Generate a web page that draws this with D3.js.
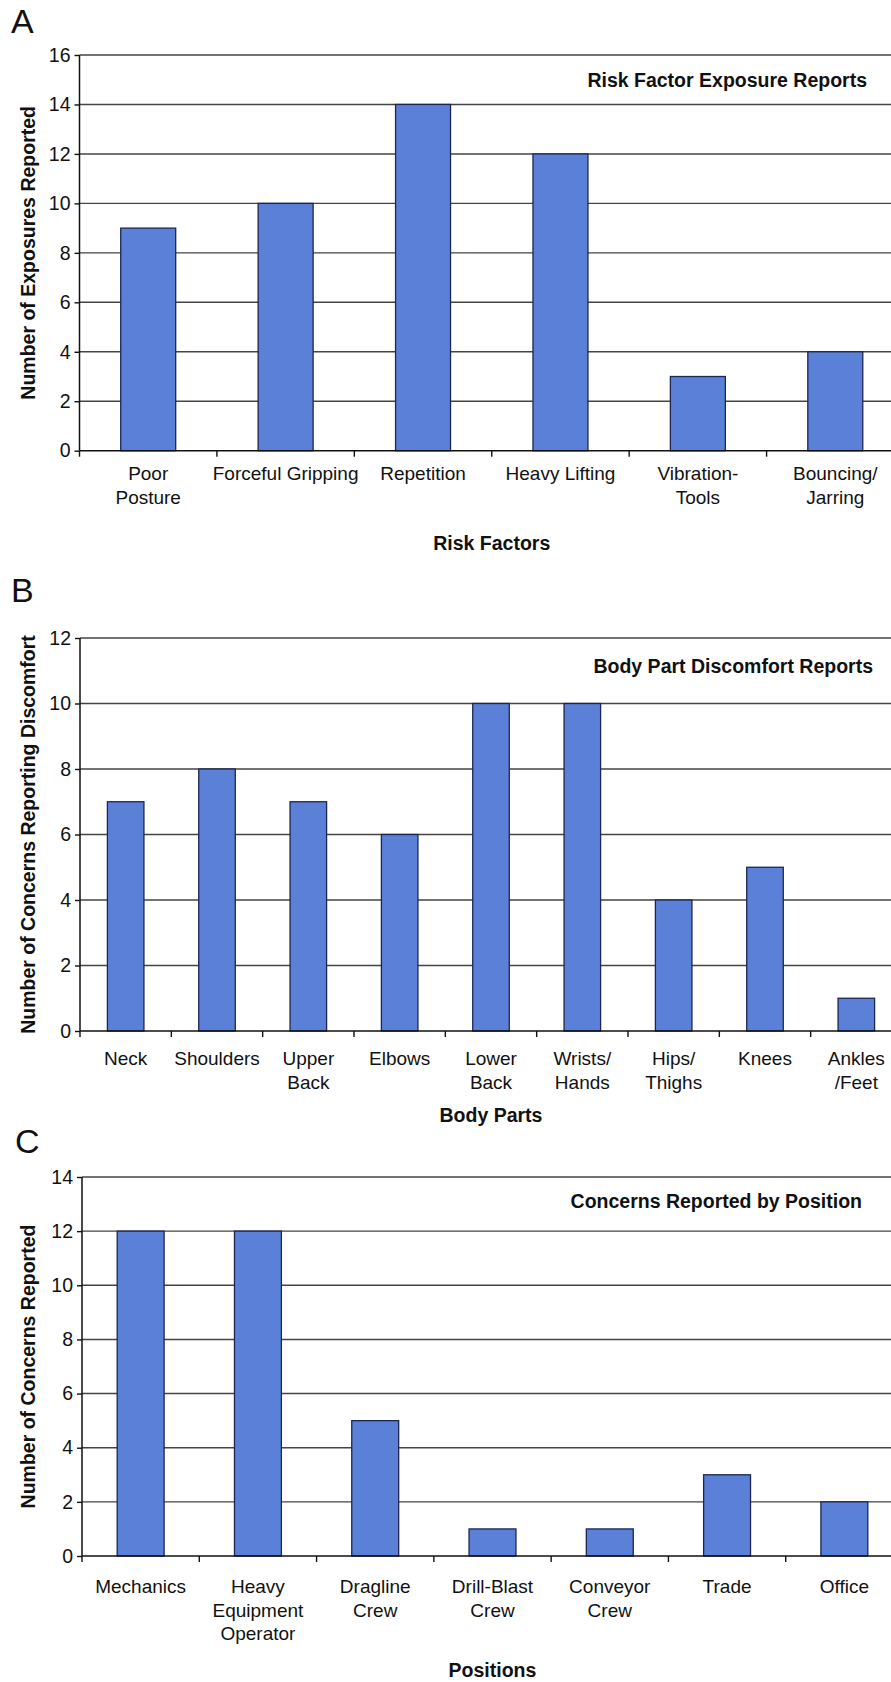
<!DOCTYPE html>
<html>
<head>
<meta charset="utf-8">
<script src="https://cdn.jsdelivr.net/npm/d3@7"></script>
<style>
  body { margin: 0; background: #fff; }
  svg text { font-family: "Liberation Sans", Arial, sans-serif; fill: #111; }
</style>
</head>
<body>
<svg id="fig" width="891" height="1682"></svg>
<script>
// panel A
var riskFactors = [["Poor", "Posture"], ["Forceful Gripping"], ["Repetition"], ["Heavy Lifting"], ["Vibration-", "Tools"], ["Bouncing/", "Jarring"]];
var riskCounts = [9, 10, 14, 12, 3, 4];
var riskTicks = [0, 2, 4, 6, 8, 10, 12, 14, 16];

// panel B
var bodyParts = [["Neck"], ["Shoulders"], ["Upper", "Back"], ["Elbows"], ["Lower", "Back"], ["Wrists/", "Hands"], ["Hips/", "Thighs"], ["Knees"], ["Ankles", "/Feet"]];
var bodyCounts = [7, 8, 7, 6, 10, 10, 4, 5, 1];
var bodyTicks = [0, 2, 4, 6, 8, 10, 12];

// panel C
var positions = [["Mechanics"], ["Heavy", "Equipment", "Operator"], ["Dragline", "Crew"], ["Drill-Blast", "Crew"], ["Conveyor", "Crew"], ["Trade"], ["Office"]];
var positionCounts = [12, 12, 5, 1, 1, 3, 2];
var positionTicks = [0, 2, 4, 6, 8, 10, 12, 14];

var svg = d3.select("#fig");

function panel(p) {
      var g = svg.append("g");
      var keys = p.cats.map(function(d, i) { return "c" + i; });

      var x = d3.scaleBand().domain(keys).range([p.left, p.right]).padding(0);
      var y = d3.scaleLinear().domain([0, d3.max(p.ticks)]).range([p.bottom, p.top]);
      var bw = x.bandwidth();

      // gridlines
      g.selectAll(".grid")
            .data(p.ticks.filter(function(t) { return t > 0; }))
            .enter().append("line")
            .attr("x1", p.left).attr("x2", p.right)
            .attr("y1", function(d) { return y(d); })
            .attr("y2", function(d) { return y(d); })
            .style("stroke", "#444").style("stroke-width", 1.4);

      // bars
      g.selectAll(".bar")
            .data(p.values)
            .enter().append("rect")
            .attr("x", function(d, i) { return x(keys[i]) + bw * 0.3; })
            .attr("width", bw * 0.4)
            .attr("y", function(d) { return y(d); })
            .attr("height", function(d) { return y(0) - y(d); })
            .style("fill", "#5a80d8")
            .style("stroke", "#1c2650")
            .style("stroke-width", 1.3);

      // y axis
      var yAxis = g.append("g")
            .attr("transform", "translate(" + p.left + ",0)")
            .call(d3.axisLeft(y).tickValues(p.ticks).tickSize(5).tickPadding(4).tickFormat(d3.format("d")));
      yAxis.select(".domain").attr("d", "M0," + p.top + "V" + p.bottom).style("stroke", "#111").style("stroke-width", 1.5);
      yAxis.selectAll(".tick line").style("stroke", "#111").style("stroke-width", 1.4);
      yAxis.selectAll("text").style("font-size", "19.5px").style("fill", "#111");

      // x axis line + ticks at category boundaries
      g.append("line")
            .attr("x1", p.left).attr("x2", p.right)
            .attr("y1", y(0)).attr("y2", y(0))
            .style("stroke", "#111").style("stroke-width", 1.6);
      var bounds = keys.map(function(k) { return x(k); }).concat([p.right]);
      g.selectAll(".xtick")
            .data(bounds)
            .enter().append("line")
            .attr("x1", function(d) { return d; }).attr("x2", function(d) { return d; })
            .attr("y1", y(0)).attr("y2", y(0) + 6)
            .style("stroke", "#111").style("stroke-width", 1.4);

      // category labels
      var lab = g.selectAll(".cat")
            .data(p.cats)
            .enter().append("text")
            .attr("text-anchor", "middle")
            .style("font-size", "19px");
      lab.each(function(lines, i) {
            var t = d3.select(this);
            lines.forEach(function(s, j) {
                  t.append("tspan")
                        .attr("x", x(keys[i]) + bw / 2)
                        .attr("y", p.labelY + j * 23.5)
                        .text(s);
            });
      });

      // axis titles
      g.append("text")
            .attr("x", (p.left + p.right) / 2)
            .attr("y", p.xTitleY)
            .attr("text-anchor", "middle")
            .style("font-size", "19.5px").style("font-weight", "bold")
            .text(p.xTitle);
      g.append("text")
            .attr("transform", "translate(35," + ((p.top + p.bottom) / 2) + ") rotate(-90)")
            .attr("text-anchor", "middle")
            .style("font-size", "19.5px").style("font-weight", "bold")
            .text(p.yTitle);

      // chart title
      g.append("text")
            .attr("x", p.titleX).attr("y", p.titleY)
            .attr("text-anchor", "end")
            .style("font-size", "19.5px").style("font-weight", "bold")
            .text(p.title);

      // panel letter
      g.append("text")
            .attr("x", p.letterX).attr("y", p.letterY)
            .style("font-size", "34px")
            .text(p.letter);
}

panel({cats: riskFactors, values: riskCounts, ticks: riskTicks,
      left: 79.5, right: 904, top: 55, bottom: 450.7,
      labelY: 480, xTitleY: 550, xTitle: "Risk Factors",
      yTitle: "Number of Exposures Reported",
      title: "Risk Factor Exposure Reports", titleX: 867, titleY: 87,
      letter: "A", letterX: 11, letterY: 33});

panel({cats: bodyParts, values: bodyCounts, ticks: bodyTicks,
      left: 80, right: 902, top: 638, bottom: 1031,
      labelY: 1065, xTitleY: 1122, xTitle: "Body Parts",
      yTitle: "Number of Concerns Reporting Discomfort",
      title: "Body Part Discomfort Reports", titleX: 873, titleY: 673,
      letter: "B", letterX: 11, letterY: 602});

panel({cats: positions, values: positionCounts, ticks: positionTicks,
      left: 82, right: 903, top: 1177, bottom: 1556,
      labelY: 1593, xTitleY: 1677, xTitle: "Positions",
      yTitle: "Number of Concerns Reported",
      title: "Concerns Reported by Position", titleX: 862, titleY: 1208,
      letter: "C", letterX: 15, letterY: 1153});
</script>
</body>
</html>
